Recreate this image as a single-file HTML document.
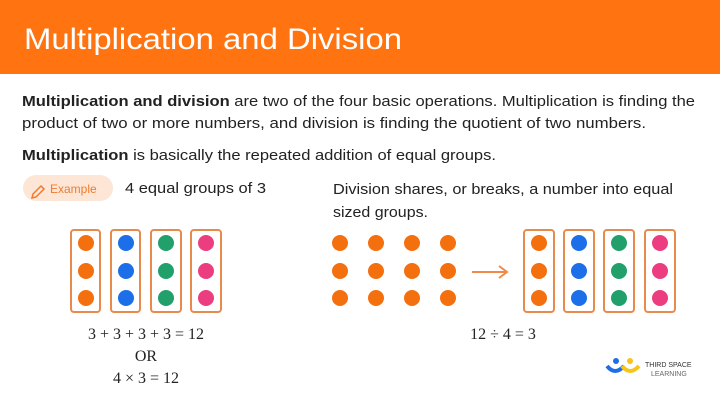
<!DOCTYPE html>
<html><head><meta charset="utf-8"><style>
html,body{margin:0;padding:0;background:#fff;width:720px;height:409px;overflow:hidden}
svg{display:block}
text{font-family:"Liberation Sans",sans-serif}
</style></head><body>
<svg width="720" height="409" viewBox="0 0 720 409" xmlns="http://www.w3.org/2000/svg">
<rect x="0" y="0" width="720" height="74" fill="#FF7311"/>
<text x="24" y="49" font-size="30" fill="#fff" textLength="378" lengthAdjust="spacingAndGlyphs">Multiplication and Division</text>
<g font-size="15" fill="#222">
<text x="22" y="106" textLength="673" lengthAdjust="spacingAndGlyphs"><tspan font-weight="bold">Multiplication and division</tspan> are two of the four basic operations. Multiplication is finding the</text>
<text x="22" y="128" textLength="624" lengthAdjust="spacingAndGlyphs">product of two or more numbers, and division is finding the quotient of two numbers.</text>
<text x="22" y="160" textLength="474" lengthAdjust="spacingAndGlyphs"><tspan font-weight="bold">Multiplication</tspan> is basically the repeated addition of equal groups.</text>
<text x="125" y="193" textLength="141" lengthAdjust="spacingAndGlyphs">4 equal groups of 3</text>
<text x="333" y="194" textLength="340" lengthAdjust="spacingAndGlyphs">Division shares, or breaks, a number into equal</text>
<text x="333" y="217" textLength="95" lengthAdjust="spacingAndGlyphs">sized groups.</text>
</g>
<rect x="23" y="175" width="90" height="26" rx="13" fill="#FDE6D6"/>
<path d="M33 194 l8 -8 l3 3 l-8 8 l-4 1 z" fill="none" stroke="#F07A2E" stroke-width="1.5"/>
<text x="50" y="193" font-size="12" fill="#F07A2E">Example</text>
<g fill="none" stroke="#E88A4C" stroke-width="2">
<rect x="71" y="230" width="29" height="82" rx="3"/><rect x="111" y="230" width="29" height="82" rx="3"/>
<rect x="151" y="230" width="30" height="82" rx="3"/><rect x="191" y="230" width="30" height="82" rx="3"/>
<rect x="524" y="230" width="30" height="82" rx="3"/><rect x="564" y="230" width="30" height="82" rx="3"/>
<rect x="604" y="230" width="30" height="82" rx="3"/><rect x="645" y="230" width="30" height="82" rx="3"/>
</g>
<g>
<g fill="#F4700F"><circle cx="86" cy="243" r="8"/><circle cx="86" cy="271" r="8"/><circle cx="86" cy="298" r="8"/>
<circle cx="539" cy="243" r="8"/><circle cx="539" cy="271" r="8"/><circle cx="539" cy="298" r="8"/></g>
<g fill="#1C6FE8"><circle cx="126" cy="243" r="8"/><circle cx="126" cy="271" r="8"/><circle cx="126" cy="298" r="8"/>
<circle cx="579" cy="243" r="8"/><circle cx="579" cy="271" r="8"/><circle cx="579" cy="298" r="8"/></g>
<g fill="#22A06B"><circle cx="166" cy="243" r="8"/><circle cx="166" cy="271" r="8"/><circle cx="166" cy="298" r="8"/>
<circle cx="619" cy="243" r="8"/><circle cx="619" cy="271" r="8"/><circle cx="619" cy="298" r="8"/></g>
<g fill="#EC3D80"><circle cx="206" cy="243" r="8"/><circle cx="206" cy="271" r="8"/><circle cx="206" cy="298" r="8"/>
<circle cx="660" cy="243" r="8"/><circle cx="660" cy="271" r="8"/><circle cx="660" cy="298" r="8"/></g>
<g fill="#F4700F">
<circle cx="340" cy="243" r="8"/><circle cx="376" cy="243" r="8"/><circle cx="412" cy="243" r="8"/><circle cx="448" cy="243" r="8"/>
<circle cx="340" cy="271" r="8"/><circle cx="376" cy="271" r="8"/><circle cx="412" cy="271" r="8"/><circle cx="448" cy="271" r="8"/>
<circle cx="340" cy="298" r="8"/><circle cx="376" cy="298" r="8"/><circle cx="412" cy="298" r="8"/><circle cx="448" cy="298" r="8"/>
</g>
</g>
<path d="M472 272 H507 M499 266 L507 272 L499 278" fill="none" stroke="#F0894A" stroke-width="2"/>
<g font-family="Liberation Serif,serif" font-size="16" fill="#222" text-anchor="middle">
<text x="146" y="339" style="font-family:'Liberation Serif',serif">3 + 3 + 3 + 3 = 12</text>
<text x="146" y="361" style="font-family:'Liberation Serif',serif">OR</text>
<text x="146" y="383" style="font-family:'Liberation Serif',serif">4 × 3 = 12</text>
<text x="503" y="339" style="font-family:'Liberation Serif',serif">12 ÷ 4 = 3</text>
</g>
<circle cx="616" cy="361" r="3" fill="#1C6FE8"/><circle cx="630" cy="361" r="3" fill="#F5C518"/>
<path d="M607 366 q8 10 17 0" fill="none" stroke="#1C6FE8" stroke-width="4"/>
<path d="M622 366 q8 10 17 0" fill="none" stroke="#F5C518" stroke-width="4"/>
<text x="645" y="367" font-size="7" fill="#333">THIRD SPACE</text>
<text x="651" y="376" font-size="7" fill="#666">LEARNING</text>
</svg>
</body></html>
